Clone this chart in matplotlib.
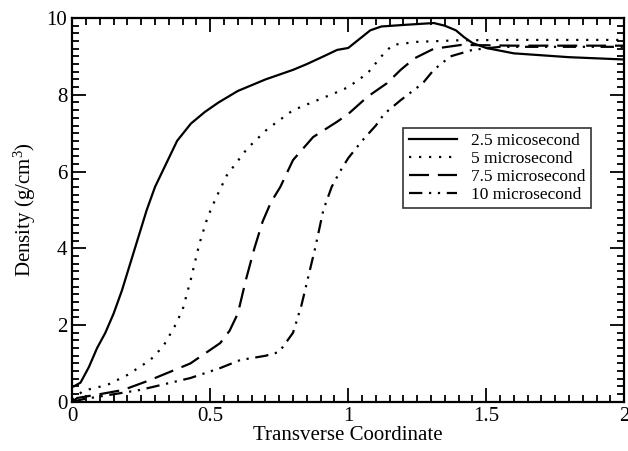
import numpy as np
import matplotlib
matplotlib.use('Agg')
import matplotlib.pyplot as plt
from matplotlib.ticker import MultipleLocator

plt.rcParams['font.family'] = ['Liberation Serif', 'DejaVu Serif']
plt.rcParams['mathtext.fontset'] = 'custom'
plt.rcParams['mathtext.rm'] = 'Liberation Serif'
plt.rcParams['mathtext.default'] = 'regular'

# 2.5 microsecond
x1 = [0.0, 0.03, 0.06, 0.09, 0.12, 0.15, 0.18, 0.21, 0.24, 0.27, 0.30, 0.34, 0.38,
      0.43, 0.48, 0.53, 0.60, 0.70, 0.80, 0.85, 0.91, 0.96, 1.0, 1.04, 1.08, 1.12,
      1.20, 1.31, 1.35, 1.39, 1.42, 1.45, 1.50, 1.60, 1.80, 2.0]
y1 = [0.38, 0.5, 0.9, 1.4, 1.8, 2.3, 2.9, 3.6, 4.3, 5.0, 5.6, 6.2, 6.8,
      7.25, 7.55, 7.8, 8.1, 8.4, 8.65, 8.8, 9.0, 9.17, 9.22, 9.45, 9.68, 9.78,
      9.82, 9.87, 9.8, 9.68, 9.5, 9.35, 9.22, 9.08, 8.98, 8.92]

# 5 microsecond
x2 = [0.0, 0.04, 0.127, 0.2, 0.283, 0.33, 0.37, 0.40, 0.43, 0.46, 0.49, 0.52, 0.56,
      0.634, 0.706, 0.80, 0.96, 1.0, 1.07, 1.12, 1.16, 1.25, 1.4, 1.6, 2.0]
y2 = [0.05, 0.29, 0.44, 0.7, 1.09, 1.45, 1.95, 2.4, 3.2, 4.1, 4.8, 5.3, 5.9,
      6.6, 7.1, 7.6, 8.07, 8.2, 8.56, 9.0, 9.3, 9.38, 9.42, 9.43, 9.43]

# 7.5 microsecond
x3 = [0.0, 0.018, 0.1, 0.185, 0.283, 0.428, 0.536, 0.57, 0.60, 0.63, 0.66, 0.69, 0.72,
      0.754, 0.80, 0.873, 0.96, 1.0, 1.07, 1.14, 1.19, 1.24, 1.31, 1.41, 1.6, 2.0]
y3 = [0.0, 0.1, 0.2, 0.31, 0.57, 1.0, 1.53, 1.85, 2.3, 3.2, 4.0, 4.7, 5.2,
      5.6, 6.3, 6.9, 7.3, 7.5, 7.95, 8.3, 8.65, 8.95, 9.2, 9.3, 9.28, 9.28]

# 10 microsecond
x4 = [0.0, 0.04, 0.246, 0.428, 0.536, 0.609, 0.70, 0.75, 0.80, 0.83, 0.86, 0.88, 0.91,
      0.94, 0.97, 1.0, 1.05, 1.1, 1.13, 1.19, 1.27, 1.31, 1.37, 1.45, 1.55, 1.8, 2.0]
y4 = [0.0, 0.07, 0.31, 0.62, 0.88, 1.09, 1.2, 1.3, 1.8, 2.5, 3.4, 4.0, 5.0,
      5.6, 6.0, 6.35, 6.8, 7.2, 7.5, 7.86, 8.3, 8.65, 9.0, 9.17, 9.25, 9.25, 9.25]

fig = plt.figure(figsize=(6.28, 4.51), dpi=100)
ax = fig.add_axes([0.115, 0.109, 0.879, 0.851])

lw = 1.6
ax.plot(x1, y1, color='black', lw=lw, linestyle='-', label='2.5 micosecond')
ax.plot(x2, y2, color='black', lw=lw, linestyle=(0, (1, 3.5)), label='5 microsecond')
ax.plot(x3, y3, color='black', lw=lw, linestyle=(0, (9, 4)), label='7.5 microsecond')
ax.plot(x4, y4, color='black', lw=lw, linestyle=(0, (6, 3, 1, 3, 1, 3)), label='10 microsecond')

ax.set_xlim(0, 2)
ax.set_ylim(0, 10)
ax.xaxis.set_major_locator(MultipleLocator(0.5))
ax.xaxis.set_minor_locator(MultipleLocator(0.05))
ax.yaxis.set_major_locator(MultipleLocator(2))
ax.yaxis.set_minor_locator(MultipleLocator(0.2))
ax.xaxis.set_major_formatter(plt.FuncFormatter(lambda v, p: ('%g' % v)))
ax.tick_params(which='both', direction='in', top=True, right=True, width=1.3, labelsize=15)
ax.tick_params(which='major', length=10)
ax.tick_params(which='minor', length=5)
for s in ax.spines.values():
    s.set_linewidth(1.6)

ax.set_xlabel('Transverse Coordinate', fontsize=15, labelpad=0)
ax.set_ylabel('Density (g/cm$^3$)', fontsize=15, labelpad=6)

leg = ax.legend(loc='upper left', bbox_to_anchor=(0.6, 0.714), fontsize=12.5, frameon=True,
                fancybox=False, edgecolor='black', handlelength=2.8, labelspacing=0.1,
                borderpad=0.3, handletextpad=0.8, borderaxespad=0)
leg.get_frame().set_linewidth(1.2)

fig.savefig('out.png', dpi=100)
